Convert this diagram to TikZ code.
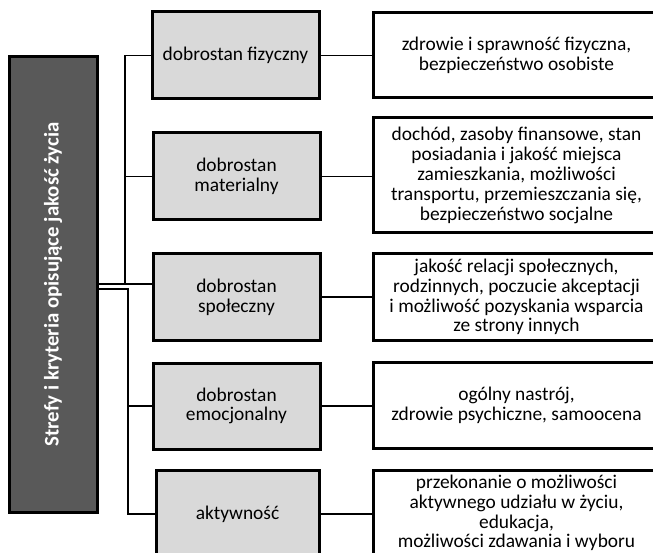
\documentclass[tikz,border=0pt]{standalone}
\usepackage{fontspec}
\setmainfont{Carlito}
\usetikzlibrary{positioning}

\definecolor{titlegray}{HTML}{595959}
\definecolor{zonegray}{HTML}{D9D9D9}

\tikzset{
  title/.style={draw=black, line width=3pt, fill=titlegray, text=white,
    minimum width=88pt, minimum height=455pt, inner sep=0pt},
  zone/.style={draw=black, line width=3pt, fill=zonegray, align=center,
    minimum width=167pt, inner sep=0pt},
  crit/.style={draw=black, line width=3pt, fill=white, align=center,
    minimum width=287pt, inner sep=0pt},
  link/.style={line width=1.6pt}
}

\begin{document}
\begin{tikzpicture}[x=1pt, y=-1pt, font=\fontsize{19.4}{19.8}\selectfont]
\useasboundingbox (0,0) rectangle (653,553);
\clip (0,0) rectangle (653,553);

% lewa kolumna
\node[title] (tytul) at (53,284.5) {};
\node[rotate=90, text=white, font=\fontsize{20.8}{22}\selectfont\bfseries]
  (tytultxt) at (tytul.center) {Strefy i kryteria opisujące jakość życia};

% strefy
\node[zone, minimum height=87pt] (fiz) at (235.5,55.5) {dobrostan fizyczny};
\node[zone, minimum height=87pt] (mat) at (236.5,176.5) {dobrostan\\materialny};
\node[zone, minimum height=86pt] (spo) at (236.5,297) {dobrostan\\społeczny};
\node[zone, minimum height=86pt] (emo) at (236.5,406) {dobrostan\\emocjonalny};
\node[zone, minimum height=88pt, minimum width=163pt] (akt) at (237.5,514) {aktywność};

% kryteria
\node[crit, minimum height=85pt] (kfiz) at (516.5,55.5)
  {zdrowie i sprawność fizyczna,\\bezpieczeństwo osobiste};
\node[crit, minimum height=115pt] (kmat) at (516.5,175.5)
  {dochód, zasoby finansowe, stan\\posiadania i jakość miejsca\\zamieszkania, możliwości\\transportu, przemieszczania się,\\bezpieczeństwo socjalne};
\node[crit, minimum height=86pt] (kspo) at (516.5,297)
  {jakość relacji społecznych,\\rodzinnych, poczucie akceptacji\\i możliwość pozyskania wsparcia\\ze strony innych};
\node[crit, minimum height=86pt] (kemo) at (516.5,405.5)
  {ogólny nastrój,\\zdrowie psychiczne, samoocena};
\node[crit, minimum height=86pt] (kakt) at (516.5,513)
  {przekonanie o możliwości\\aktywnego udziału w życiu,\\edukacja,\\możliwości zdawania i wyboru};

% polaczenia
\coordinate (pA) at (125,284);
\coordinate (pB) at (128,289);
\draw[link] (tytul.east |- pA) -- (spo.west |- pA);
\draw[link] (pA) |- (fiz.west);
\draw[link] (pA) |- (mat.west);
\draw[link] (tytul.east |- pB) -- (pB) |- (emo.west);
\draw[link] (pB) |- (akt.west);

\foreach \z in {fiz,mat,spo,emo,akt}
  \draw[link] (\z.east) -- (\z.east -| k\z.west);
\end{tikzpicture}
\end{document}
